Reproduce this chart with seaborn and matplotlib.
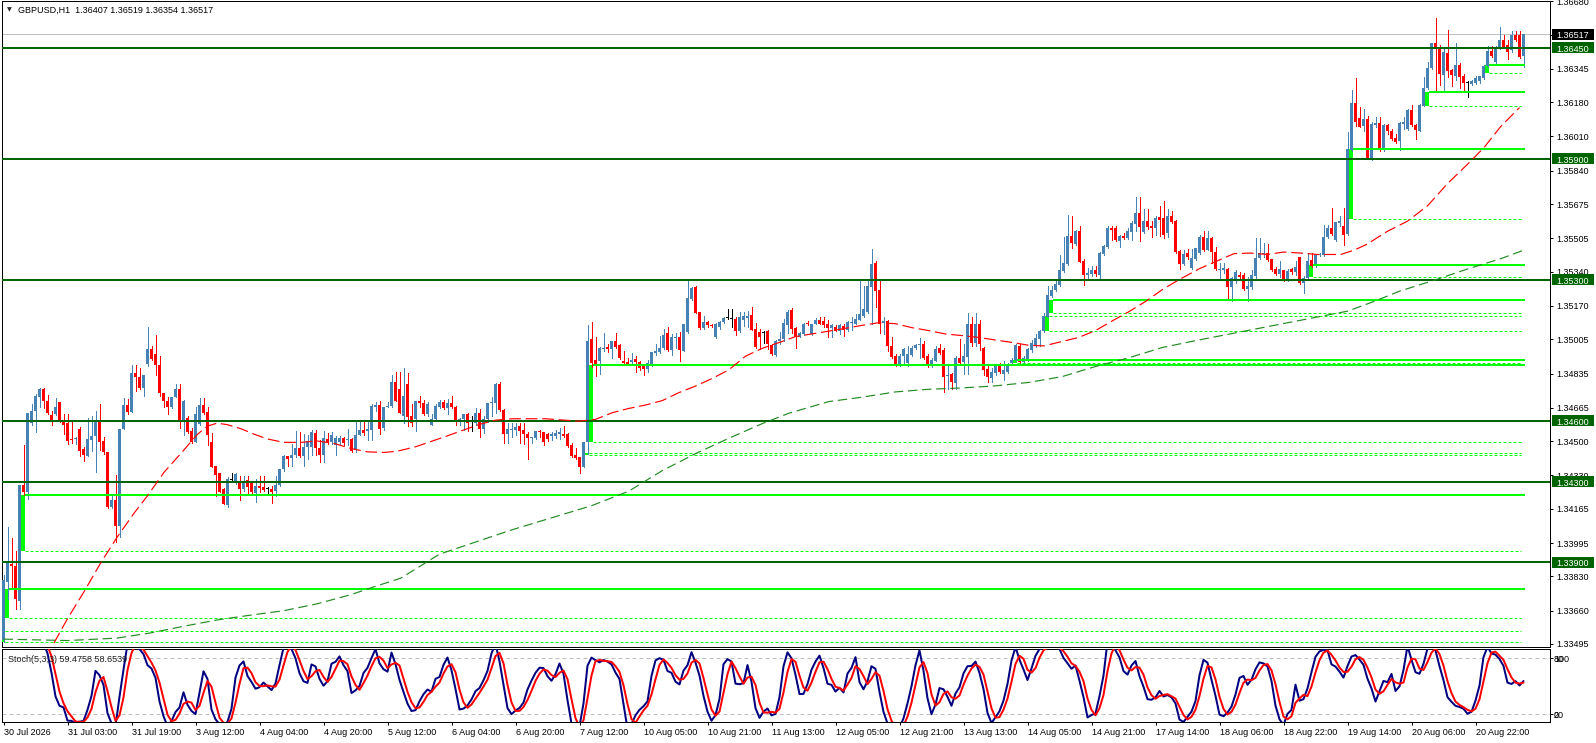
import numpy as np
import pandas as pd
import matplotlib
matplotlib.use("Agg")
import matplotlib.pyplot as plt
import matplotlib.transforms as mtransforms
from matplotlib.patches import Rectangle
import seaborn as sns

# ---------------- data (GBPUSD H1) ----------------
open_ = [
1.33516,1.33804,1.33892,1.33883,1.33710,1.34283,1.34249,1.34591,1.34647,1.34721,
1.34760,1.34697,1.34628,1.34633,1.34692,1.34606,1.34591,1.34511,1.34511,1.34562,
1.34459,1.34427,1.34506,1.34528,1.34596,1.34501,1.34444,1.34176,1.34207,1.34080,
1.34560,1.34681,1.34645,1.34836,1.34819,1.34765,1.34884,1.34958,1.34934,1.34875,
1.34738,1.34697,1.34667,1.34721,1.34760,1.34603,1.34613,1.34548,1.34498,1.34586,
1.34681,1.34642,1.34498,1.34379,1.34342,1.34261,1.34184,1.34308,1.34303,1.34294,
1.34264,1.34306,1.34294,1.34244,1.34278,1.34274,1.34261,1.34264,1.34252,1.34281,
1.34362,1.34427,1.34416,1.34430,1.34467,1.34427,1.34472,1.34472,1.34540,1.34464,
1.34433,1.34511,1.34498,1.34481,1.34498,1.34518,1.34506,1.34511,1.34455,1.34532,
1.34557,1.34548,1.34557,1.34667,1.34681,1.34565,1.34667,1.34672,1.34794,1.34760,
1.34625,1.34785,1.34625,1.34608,1.34701,1.34689,1.34633,1.34582,1.34611,1.34667,
1.34696,1.34663,1.34689,1.34667,1.34599,1.34608,1.34633,1.34599,1.34591,1.34641,
1.34560,1.34608,1.34689,1.34689,1.34785,1.34655,1.34535,1.34557,1.34557,1.34577,
1.34557,1.34535,1.34514,1.34514,1.34548,1.34543,1.34535,1.34528,1.34528,1.34535,
1.34537,1.34535,1.34481,1.34430,1.34421,1.34371,1.34494,1.35005,1.34904,1.34895,
1.34958,1.34966,1.34955,1.34997,1.34977,1.34895,1.34890,1.34890,1.34907,1.34892,
1.34875,1.34858,1.34882,1.34938,1.34943,1.34960,1.35034,1.34950,1.35011,1.35014,
1.34946,1.35039,1.35205,1.35264,1.35141,1.35060,1.35090,1.35078,1.35014,1.35065,
1.35090,1.35110,1.35107,1.35107,1.35048,1.35099,1.35112,1.35124,1.35056,1.35039,
1.35034,1.35048,1.34977,1.34929,1.34994,1.35005,1.35078,1.35149,1.35062,1.35018,
1.35031,1.35087,1.35031,1.35082,1.35102,1.35096,1.35082,1.35062,1.35068,1.35045,
1.35070,1.35052,1.35085,1.35082,1.35102,1.35119,1.35141,1.35265,1.35382,1.35251,
1.35087,1.35096,1.34972,1.34921,1.34876,1.34921,1.34887,1.34926,1.34964,1.34977,
1.34981,1.34921,1.34870,1.34899,1.34960,1.34950,1.34825,1.34832,1.34786,1.34913,
1.34892,1.34918,1.35082,1.34984,1.35082,1.34960,1.34857,1.34815,1.34837,1.34879,
1.34832,1.34845,1.34887,1.34904,1.34972,1.34892,1.34904,1.34950,1.34972,1.35006,
1.35045,1.35116,1.35221,1.35248,1.35272,1.35344,1.35378,1.35519,1.35477,1.35543,
1.35395,1.35322,1.35326,1.35350,1.35322,1.35429,1.35463,1.35556,1.35556,1.35493,
1.35517,1.35505,1.35536,1.35576,1.35632,1.35536,1.35590,1.35565,1.35556,1.35610,
1.35604,1.35531,1.35615,1.35590,1.35441,1.35378,1.35434,1.35356,1.35404,1.35434,
1.35514,1.35446,1.35505,1.35437,1.35348,1.35348,1.35353,1.35263,1.35297,1.35324,
1.35324,1.35256,1.35263,1.35319,1.35409,1.35429,1.35432,1.35403,1.35353,1.35327,
1.35348,1.35297,1.35353,1.35336,1.35412,1.35285,1.35310,1.35398,1.35370,1.35420,
1.35420,1.35510,1.35556,1.35497,1.35581,1.35564,1.35527,1.35945,1.36174,1.36103,
1.36064,1.36098,1.35900,1.36069,1.36076,1.35945,1.36068,1.36038,1.36004,1.35987,
1.36072,1.36046,1.36143,1.36068,1.36035,1.36160,1.36250,1.36351,1.36475,1.36448,
1.36312,1.36424,1.36339,1.36309,1.36363,1.36309,1.36275,1.36272,1.36275,1.36283,
1.36300,1.36360,1.36431,1.36380,1.36444,1.36487,1.36461,1.36436,1.36515,1.36515,
1.36407]
high = [
1.33837,1.34074,1.34020,1.33956,1.34283,1.34481,1.34638,1.34684,1.34735,1.34765,
1.34765,1.34730,1.34650,1.34713,1.34692,1.34633,1.34633,1.34599,1.34523,1.34569,
1.34472,1.34616,1.34625,1.34650,1.34684,1.34523,1.34444,1.34235,1.34333,1.34560,
1.34713,1.34709,1.34879,1.34879,1.34862,1.34828,1.35065,1.34972,1.35028,1.34921,
1.34738,1.34718,1.34718,1.34782,1.34782,1.34704,1.34625,1.34565,1.34667,1.34713,
1.34713,1.34667,1.34540,1.34379,1.34342,1.34269,1.34320,1.34342,1.34342,1.34328,
1.34328,1.34328,1.34303,1.34311,1.34325,1.34325,1.34274,1.34278,1.34325,1.34362,
1.34430,1.34427,1.34484,1.34552,1.34545,1.34535,1.34532,1.34557,1.34557,1.34506,
1.34548,1.34540,1.34545,1.34528,1.34528,1.34523,1.34560,1.34515,1.34596,1.34596,
1.34599,1.34603,1.34684,1.34692,1.34701,1.34667,1.34692,1.34828,1.34845,1.34841,
1.34862,1.34836,1.34684,1.34701,1.34726,1.34706,1.34692,1.34633,1.34684,1.34706,
1.34706,1.34709,1.34726,1.34675,1.34616,1.34633,1.34641,1.34625,1.34662,1.34658,
1.34625,1.34689,1.34718,1.34790,1.34794,1.34658,1.34591,1.34591,1.34591,1.34591,
1.34591,1.34545,1.34523,1.34548,1.34557,1.34543,1.34540,1.34543,1.34557,1.34565,
1.34574,1.34540,1.34489,1.34464,1.34421,1.34494,1.35078,1.35090,1.35017,1.34966,
1.35034,1.34980,1.34997,1.35034,1.34983,1.34946,1.34912,1.34938,1.34921,1.34895,
1.34878,1.34904,1.34943,1.34980,1.35022,1.35056,1.35065,1.35031,1.35034,1.35039,
1.35082,1.35302,1.35264,1.35268,1.35141,1.35119,1.35095,1.35082,1.35085,1.35095,
1.35115,1.35153,1.35153,1.35115,1.35141,1.35141,1.35146,1.35163,1.35085,1.35056,
1.35048,1.35051,1.34980,1.35000,1.35039,1.35107,1.35149,1.35158,1.35065,1.35040,
1.35085,1.35096,1.35082,1.35109,1.35116,1.35116,1.35099,1.35082,1.35074,1.35082,
1.35082,1.35096,1.35116,1.35130,1.35299,1.35268,1.35299,1.35451,1.35395,1.35302,
1.35113,1.35099,1.35018,1.34930,1.34930,1.34964,1.34972,1.34972,1.34981,1.35011,
1.34994,1.34930,1.34913,1.34972,1.34981,1.34960,1.34879,1.34837,1.34921,1.35006,
1.34981,1.35133,1.35116,1.35133,1.35099,1.34967,1.34879,1.34862,1.34882,1.34887,
1.34899,1.34887,1.34913,1.34981,1.34981,1.34921,1.34964,1.35001,1.35031,1.35052,
1.35133,1.35268,1.35268,1.35294,1.35421,1.35514,1.35620,1.35615,1.35548,1.35565,
1.35404,1.35356,1.35370,1.35370,1.35438,1.35471,1.35565,1.35565,1.35565,1.35522,
1.35531,1.35556,1.35590,1.35708,1.35708,1.35649,1.35649,1.35590,1.35615,1.35666,
1.35688,1.35649,1.35641,1.35598,1.35446,1.35446,1.35451,1.35451,1.35458,1.35522,
1.35539,1.35539,1.35510,1.35463,1.35381,1.35381,1.35358,1.35314,1.35348,1.35336,
1.35331,1.35314,1.35348,1.35505,1.35505,1.35480,1.35477,1.35403,1.35361,1.35395,
1.35348,1.35353,1.35358,1.35392,1.35412,1.35319,1.35432,1.35432,1.35429,1.35432,
1.35573,1.35573,1.35657,1.35585,1.35615,1.35657,1.36030,1.36238,1.36301,1.36157,
1.36148,1.36109,1.36081,1.36106,1.36106,1.36072,1.36072,1.36046,1.36021,1.36080,
1.36106,1.36148,1.36165,1.36072,1.36170,1.36305,1.36377,1.36475,1.36597,1.36461,
1.36453,1.36537,1.36343,1.36475,1.36373,1.36317,1.36283,1.36289,1.36309,1.36309,
1.36363,1.36458,1.36458,1.36458,1.36554,1.36512,1.36487,1.36532,1.36532,1.36532,
1.36519]
low = [
1.33507,1.33719,1.33766,1.33668,1.33668,1.34235,1.34213,1.34582,1.34545,1.34667,
1.34664,1.34633,1.34579,1.34628,1.34596,1.34535,1.34484,1.34489,1.34484,1.34427,
1.34401,1.34427,1.34450,1.34349,1.34455,1.34438,1.34168,1.34168,1.33998,1.34024,
1.34560,1.34636,1.34642,1.34747,1.34760,1.34726,1.34870,1.34904,1.34828,1.34726,
1.34667,1.34636,1.34664,1.34718,1.34565,1.34532,1.34540,1.34489,1.34498,1.34582,
1.34633,1.34481,1.34371,1.34227,1.34249,1.34188,1.34173,1.34303,1.34286,1.34207,
1.34252,1.34244,1.34244,1.34198,1.34249,1.34252,1.34239,1.34193,1.34227,1.34278,
1.34354,1.34379,1.34379,1.34421,1.34421,1.34376,1.34413,1.34430,1.34430,1.34399,
1.34396,1.34484,1.34484,1.34430,1.34481,1.34481,1.34481,1.34447,1.34447,1.34532,
1.34532,1.34506,1.34506,1.34650,1.34535,1.34557,1.34667,1.34667,1.34697,1.34638,
1.34591,1.34574,1.34574,1.34548,1.34667,1.34628,1.34625,1.34582,1.34608,1.34662,
1.34658,1.34633,1.34662,1.34582,1.34582,1.34557,1.34548,1.34548,1.34582,1.34520,
1.34540,1.34594,1.34625,1.34641,1.34650,1.34492,1.34492,1.34523,1.34531,1.34489,
1.34484,1.34413,1.34492,1.34509,1.34520,1.34481,1.34503,1.34506,1.34514,1.34511,
1.34523,1.34472,1.34421,1.34413,1.34340,1.34371,1.34438,1.34867,1.34824,1.34831,
1.34946,1.34943,1.34912,1.34963,1.34909,1.34878,1.34875,1.34887,1.34841,1.34853,
1.34828,1.34845,1.34870,1.34929,1.34938,1.34955,1.34946,1.34926,1.34963,1.34899,
1.34946,1.35034,1.35200,1.35136,1.35056,1.35056,1.35065,1.35065,1.35011,1.35056,
1.35085,1.35104,1.35065,1.35027,1.35039,1.35070,1.35065,1.35051,1.34963,1.34955,
1.34988,1.34955,1.34929,1.34921,1.34983,1.34997,1.35034,1.35034,1.34964,1.35014,
1.35028,1.35074,1.35028,1.35079,1.35079,1.35068,1.35018,1.35018,1.35045,1.35031,
1.35023,1.35048,1.35052,1.35079,1.35099,1.35116,1.35136,1.35082,1.35167,1.35035,
1.35031,1.34947,1.34913,1.34870,1.34872,1.34879,1.34870,1.34921,1.34955,1.34913,
1.34909,1.34865,1.34865,1.34896,1.34933,1.34744,1.34757,1.34757,1.34757,1.34879,
1.34832,1.34832,1.34972,1.34972,1.34950,1.34828,1.34791,1.34791,1.34828,1.34837,
1.34803,1.34837,1.34882,1.34899,1.34887,1.34887,1.34896,1.34943,1.34967,1.34972,
1.35040,1.35116,1.35214,1.35243,1.35268,1.35339,1.35373,1.35455,1.35471,1.35387,
1.35272,1.35299,1.35319,1.35319,1.35299,1.35424,1.35458,1.35497,1.35492,1.35463,
1.35502,1.35500,1.35497,1.35543,1.35492,1.35531,1.35553,1.35514,1.35522,1.35519,
1.35505,1.35514,1.35582,1.35434,1.35353,1.35373,1.35404,1.35353,1.35400,1.35429,
1.35442,1.35446,1.35381,1.35349,1.35297,1.35331,1.35209,1.35192,1.35285,1.35297,
1.35251,1.35192,1.35256,1.35310,1.35403,1.35412,1.35395,1.35344,1.35324,1.35314,
1.35293,1.35293,1.35327,1.35324,1.35280,1.35234,1.35307,1.35365,1.35361,1.35415,
1.35415,1.35505,1.35522,1.35493,1.35564,1.35471,1.35522,1.35940,1.36064,1.36055,
1.36035,1.35900,1.35894,1.36055,1.35940,1.35940,1.36021,1.35991,1.35979,1.35945,
1.36046,1.36041,1.36063,1.35996,1.36035,1.36160,1.36245,1.36346,1.36238,1.36267,
1.36238,1.36305,1.36261,1.36292,1.36250,1.36233,1.36204,1.36267,1.36272,1.36275,
1.36295,1.36356,1.36402,1.36373,1.36441,1.36448,1.36394,1.36427,1.36482,1.36397,
1.36354]
close = [
1.33812,1.33905,1.33880,1.33716,1.34283,1.34249,1.34638,1.34650,1.34726,1.34760,
1.34697,1.34638,1.34606,1.34670,1.34599,1.34579,1.34501,1.34508,1.34515,1.34450,
1.34430,1.34511,1.34528,1.34603,1.34498,1.34444,1.34176,1.34207,1.34080,1.34560,
1.34681,1.34642,1.34836,1.34819,1.34765,1.34828,1.34958,1.34909,1.34875,1.34738,
1.34701,1.34670,1.34718,1.34760,1.34603,1.34697,1.34545,1.34498,1.34636,1.34681,
1.34638,1.34532,1.34371,1.34332,1.34249,1.34188,1.34311,1.34308,1.34339,1.34264,
1.34303,1.34274,1.34249,1.34278,1.34269,1.34257,1.34261,1.34249,1.34281,1.34362,
1.34425,1.34413,1.34430,1.34467,1.34427,1.34472,1.34501,1.34545,1.34464,1.34433,
1.34515,1.34498,1.34532,1.34518,1.34518,1.34489,1.34511,1.34450,1.34532,1.34557,
1.34540,1.34562,1.34675,1.34681,1.34562,1.34667,1.34672,1.34794,1.34697,1.34641,
1.34726,1.34621,1.34591,1.34701,1.34689,1.34633,1.34684,1.34611,1.34672,1.34696,
1.34663,1.34689,1.34667,1.34599,1.34608,1.34633,1.34591,1.34599,1.34641,1.34560,
1.34611,1.34689,1.34692,1.34785,1.34655,1.34535,1.34562,1.34562,1.34570,1.34548,
1.34535,1.34514,1.34520,1.34548,1.34543,1.34494,1.34511,1.34535,1.34540,1.34543,
1.34528,1.34475,1.34426,1.34416,1.34371,1.34494,1.34997,1.34887,1.34875,1.34963,
1.34963,1.34955,1.34994,1.34968,1.34912,1.34887,1.34882,1.34904,1.34892,1.34862,
1.34858,1.34887,1.34943,1.34946,1.34963,1.35027,1.34950,1.35014,1.35017,1.34950,
1.35082,1.35209,1.35259,1.35137,1.35060,1.35090,1.35077,1.35070,1.35082,1.35090,
1.35112,1.35110,1.35107,1.35048,1.35115,1.35119,1.35121,1.35053,1.34966,1.35014,
1.35034,1.34980,1.34933,1.34994,1.35005,1.35085,1.35141,1.35056,1.35018,1.35035,
1.35082,1.35079,1.35082,1.35102,1.35082,1.35074,1.35062,1.35074,1.35048,1.35074,
1.35052,1.35091,1.35091,1.35107,1.35130,1.35153,1.35268,1.35378,1.35243,1.35082,
1.35096,1.34972,1.34916,1.34876,1.34921,1.34955,1.34930,1.34964,1.34977,1.34981,
1.34913,1.34870,1.34904,1.34955,1.34938,1.34820,1.34828,1.34791,1.34913,1.34887,
1.34921,1.35082,1.34984,1.35082,1.34981,1.34854,1.34820,1.34842,1.34879,1.34845,
1.34854,1.34879,1.34904,1.34977,1.34892,1.34913,1.34955,1.34984,1.35011,1.35045,
1.35119,1.35226,1.35251,1.35277,1.35350,1.35383,1.35519,1.35480,1.35543,1.35390,
1.35322,1.35333,1.35350,1.35328,1.35434,1.35468,1.35556,1.35548,1.35497,1.35519,
1.35505,1.35539,1.35582,1.35632,1.35560,1.35590,1.35560,1.35556,1.35607,1.35597,
1.35522,1.35615,1.35587,1.35438,1.35378,1.35429,1.35412,1.35407,1.35458,1.35514,
1.35446,1.35505,1.35437,1.35353,1.35353,1.35358,1.35263,1.35307,1.35336,1.35315,
1.35256,1.35268,1.35324,1.35409,1.35432,1.35432,1.35398,1.35348,1.35327,1.35353,
1.35297,1.35344,1.35336,1.35361,1.35285,1.35310,1.35395,1.35370,1.35420,1.35429,
1.35513,1.35556,1.35527,1.35585,1.35590,1.35522,1.35950,1.36174,1.36081,1.36059,
1.36098,1.35900,1.36072,1.36076,1.35945,1.36068,1.36038,1.35996,1.35984,1.36075,
1.36080,1.36143,1.36068,1.36041,1.36165,1.36250,1.36351,1.36475,1.36453,1.36317,
1.36427,1.36334,1.36312,1.36363,1.36305,1.36275,1.36275,1.36283,1.36300,1.36309,
1.36360,1.36431,1.36407,1.36444,1.36487,1.36453,1.36427,1.36515,1.36487,1.36402,
1.36517]

# moving averages (bar index, price)
ma_red_bar = [12.6,15.9,20.1,24.3,28.4,32.6,35.9,40.1,44.3,48.4,50.9,53.4,55.9,59.3,62.6,65.9,
              70.1,74.3,78.4,82.6,86.8,90.9,95.1,98.4,103,110.5,118.8,123,127.2,135.5,143.8,148,
              152.2,156.3,160.5,164.7,168.8,173,177.2,181.3,185.5,189.7,193.8,198,206.3,214.7,
              218.8,223,227.2,231.3,235.5,239.7,243.8,248,252.2,256.3,260.1,264.7,268.8,273,
              277.2,281.3,285.5,289.7,293.8,298.8,307.6,311.8,316,320,324.3,328.4,334.3,337.6,
              340.9,345.9,351,356,361,366,370.1,374.3,379]
ma_red_val = [1.33499,1.33617,1.33753,1.33897,1.34024,1.34142,1.34227,1.34345,1.34438,1.34532,
              1.34574,1.34589,1.34582,1.34562,1.34535,1.34511,1.34494,1.34494,1.34501,1.34489,
              1.34464,1.34447,1.34444,1.34450,1.34472,1.34523,1.34582,1.34604,1.34611,1.34611,
              1.34599,1.34608,1.34641,1.34662,1.34679,1.34701,1.34740,1.34773,1.34811,1.34853,
              1.34921,1.34960,1.34988,1.35018,1.35045,1.35074,1.35087,1.35082,1.35062,1.35048,
              1.35031,1.35023,1.35014,1.35001,1.34989,1.34975,1.34972,1.34994,1.35014,1.35048,
              1.35096,1.35141,1.35192,1.35251,1.35299,1.35353,1.35429,1.35432,1.35425,1.35437,
              1.35432,1.35425,1.35425,1.35446,1.35476,1.35539,1.35590,1.35666,1.35776,1.35872,
              1.35954,1.36059,1.36153]
ma_green_bar = [0,16,28.4,36.8,45.1,53.4,61.8,70.1,78.4,86.8,92.6,99.3,109,127,147,156.3,164.7,
                173,181.3,189.7,196.3,206.3,214.7,223,231.3,239.7,248,256.3,264.7,273,281.3,
                289.7,298,318,336,342.6,349,357.6,366,374.3,380]
ma_green_val = [1.33519,1.33512,1.33524,1.33550,1.33583,1.33614,1.33638,1.33660,1.33694,1.33739,
                1.33778,1.33821,1.33940,1.34060,1.34180,1.34252,1.34354,1.34438,1.34514,1.34587,
                1.34638,1.34696,1.34718,1.34744,1.34757,1.34764,1.34774,1.34791,1.34820,1.34870,
                1.34913,1.34964,1.34998,1.35075,1.35144,1.35192,1.35243,1.35297,1.35353,1.35404,
                1.35446]

level_prices = [1.36450, 1.35900, 1.35300, 1.34600, 1.34300, 1.33900]
current_price = 1.36517

zone_bar = [-1, 0, 4, 145, 146, 252, 260, 261, 326, 336, 355, 370]
zone_top = [1.33558, 1.33766, 1.34235, 1.34442, 1.34875, 1.34904, 1.35119, 1.35197,
            1.35373, 1.35950, 1.36230, 1.36363]
zone_bottom = [1.33507, 1.33622, 1.33956, 1.34430, 1.34494, 1.34887, 1.35048, 1.35133,
               1.35312, 1.35601, 1.36163, 1.36323]
zone_top_solid = [False, True, True, False, True, True, False, True, True, True, True, True]

price_ticks = [1.36680, 1.36512, 1.36345, 1.36180, 1.36010, 1.35840, 1.35675, 1.35505, 1.35340,
               1.35170, 1.35005, 1.34835, 1.34665, 1.34500, 1.34330, 1.34165, 1.33995, 1.33830,
               1.33660, 1.33495]
time_labels = ["30 Jul 2026", "31 Jul 03:00", "31 Jul 19:00", "3 Aug 12:00", "4 Aug 04:00",
               "4 Aug 20:00", "5 Aug 12:00", "6 Aug 04:00", "6 Aug 20:00", "7 Aug 12:00",
               "10 Aug 05:00", "10 Aug 21:00", "11 Aug 13:00", "12 Aug 05:00", "12 Aug 21:00",
               "13 Aug 13:00", "14 Aug 05:00", "14 Aug 21:00", "17 Aug 14:00", "18 Aug 06:00",
               "18 Aug 22:00", "19 Aug 14:00", "20 Aug 06:00", "20 Aug 22:00"]
time_label_step = 16
header = "GBPUSD,H1  1.36407 1.36519 1.36354 1.36517"
stoch_title = "Stoch(5,3,3) 59.4758 58.6539"

# ---------------- style ----------------
sns.set_theme(style="white")
plt.rcParams['font.family'] = ['Liberation Sans', 'DejaVu Sans']
FS = 6.5
PX = 0.72  # one pixel in points

W, H = 1596, 743
fig = plt.figure(figsize=(W / 100, H / 100), dpi=100, facecolor='white')


def px_axes(l, t, r, b):
    return fig.add_axes([l / W, 1 - b / H, (r - l) / W, (b - t) / H])


ax = px_axes(2, 1, 1550, 647)
axs = px_axes(2, 649, 1550, 722)
XLIM = (-0.375, 386.625)
YLIM = (1.33480, 1.36681)

o = np.array(open_); h = np.array(high); l = np.array(low); c = np.array(close)
idx = np.arange(len(c))
last = idx[-1]

# candles
col = np.where(c > o, '#4682B4', np.where(c < o, '#FF0000', '#000000'))
ax.vlines(idx, l, h, colors=col, linewidth=PX, zorder=4, antialiased=False)
ppx = (YLIM[1] - YLIM[0]) / 646.0
body_b = np.minimum(o, c)
body_h = np.maximum(np.abs(c - o), ppx)
ax.bar(idx, body_h, bottom=body_b, width=0.75, color=col, linewidth=0, zorder=5,
       antialiased=False)

# levels
for v in level_prices:
    ax.axhline(v, color='#006400', lw=2 * PX, zorder=6)
ax.axhline(current_price, color='#C0C0C0', lw=PX, zorder=2)

# zones
LIME = '#00FF00'
for b, top, bot, solid in zip(zone_bar, zone_top, zone_bottom, zone_top_solid):
    ax.add_patch(Rectangle((b + 0.375, bot), 0.925, top - bot, facecolor=LIME,
                           edgecolor='none', zorder=3))
    if solid:
        ax.hlines(top, b + 1.3, last + 0.25, color=LIME, lw=2 * PX, zorder=6)
    else:
        ax.hlines(top, b + 1.3, last - 0.75, color=LIME, lw=PX, linestyles=(0, (3, 2)), zorder=6)
    ax.hlines(bot, b + 1.3, last - 0.75, color=LIME, lw=PX, linestyles=(0, (3, 2)), zorder=6)

# moving averages
ma_r = pd.DataFrame({'bar': ma_red_bar, 'price': ma_red_val})
ma_g = pd.DataFrame({'bar': ma_green_bar, 'price': ma_green_val})
sns.lineplot(data=ma_g, x='bar', y='price', ax=ax, color='#228B22', lw=0.85, sort=False,
             estimator=None, zorder=6)
ax.lines[-1].set_dashes((8, 4))
sns.lineplot(data=ma_r, x='bar', y='price', ax=ax, color='#FF0000', lw=0.85, sort=False,
             estimator=None, zorder=6)
ax.lines[-1].set_dashes((10, 4))

ax.set_xlim(*XLIM)
ax.set_ylim(*YLIM)
ax.set_xlabel('')
ax.set_ylabel('')
ax.set_xticks([])
ax.yaxis.tick_right()
ax.set_yticks(price_ticks)
ax.set_yticklabels([f"{t:.5f}" for t in price_ticks])
ax.tick_params(axis='y', right=True, left=False, labelright=True, labelleft=False,
               length=3 * PX, width=PX, pad=3 * PX, labelsize=FS, colors='black')
for sp in ax.spines.values():
    sp.set_color('black'); sp.set_linewidth(PX); sp.set_visible(True)
ax.set_facecolor('white')

# right-side price labels
trans = mtransforms.blended_transform_factory(ax.transAxes, ax.transData)
xa = 1 + 2 / 1548
wa = 42 / 1548


def price_box(v, fc):
    ax.add_patch(Rectangle((xa, v - 5.5 * ppx), wa, 11 * ppx, transform=trans, facecolor=fc,
                           edgecolor='none', clip_on=False, zorder=20))
    ax.text(xa + wa / 2, v - 0.5 * ppx, f"{v:.5f}", transform=trans, ha='center',
            va='center_baseline', color='white', fontsize=FS, clip_on=False, zorder=21)


price_box(current_price, '#000000')
for v in level_prices:
    price_box(v, '#006400')

# ---------------- stochastic ----------------
cs = pd.Series(c); hs = pd.Series(h); ls = pd.Series(l)
ll5 = ls.rolling(5).min(); hh5 = hs.rolling(5).max()
k_main = 100 * (cs - ll5).rolling(3).sum() / (hh5 - ll5).rolling(3).sum()
d_sig = k_main.rolling(3).mean()
st = pd.DataFrame({'bar': idx, 'main': k_main, 'signal': d_sig})
sns.lineplot(data=st.dropna(subset=['main']), x='bar', y='main', ax=axs, color='#000080',
             lw=2 * PX, estimator=None, zorder=4)
sns.lineplot(data=st.dropna(subset=['signal']), x='bar', y='signal', ax=axs, color='#FF0000',
             lw=2 * PX, estimator=None, zorder=5)
for lv in (80, 20):
    axs.axhline(lv, color='#C0C0C0', lw=PX, dashes=(4, 3), zorder=2)
axs.set_xlim(*XLIM)
axs.set_ylim(11.8, 89.6)
axs.set_xlabel('')
axs.set_ylabel('')
axs.set_facecolor('white')
for sp in axs.spines.values():
    sp.set_color('black'); sp.set_linewidth(PX); sp.set_visible(True)
axs.yaxis.tick_right()
axs.set_yticks([20, 80])
axs.set_yticklabels([])
axs.tick_params(axis='y', right=True, left=False, length=3 * PX, width=PX, colors='black')
tr_s = mtransforms.blended_transform_factory(axs.transAxes, axs.transData)
for lv, txts in ((80, ("80", "100")), (20, ("20", "0"))):
    for t in txts:
        axs.text(1 + 4 / 1548, lv, t, transform=tr_s, ha='left', va='center_baseline',
                 fontsize=FS, color='black', clip_on=False)
axs.text(6 / 1548, 80, stoch_title, transform=tr_s, ha='left', va='center_baseline',
         fontsize=FS, color='#202020', zorder=10)

xt = np.arange(len(time_labels)) * time_label_step
axs.set_xticks(xt)
axs.set_xticklabels(time_labels, ha='left')
axs.tick_params(axis='x', bottom=True, direction='out', length=3 * PX, width=PX, pad=2,
                labelsize=FS, colors='black')

# header
fig.text(7 / W, 1 - 10 / H, "\u25BC", fontsize=4.5, va='center', ha='left',
         family=['DejaVu Sans'])
fig.text(18 / W, 1 - 10 / H, header, fontsize=FS, va='center', ha='left', color='black')

fig.savefig("out.png", dpi=100, facecolor='white')
